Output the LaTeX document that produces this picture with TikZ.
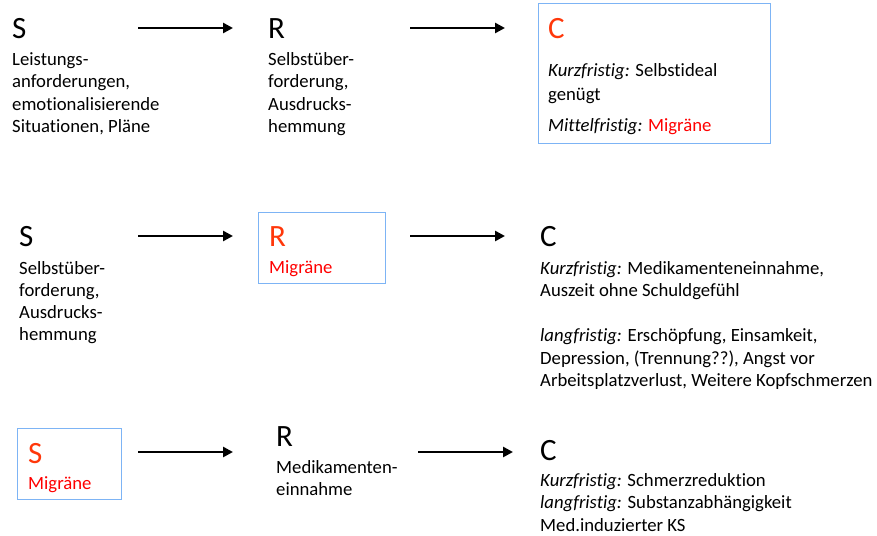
\documentclass[tikz,border=0pt]{standalone}
\usepackage{fontspec}
\setmainfont[Ligatures={NoCommon}]{Carlito}
\usetikzlibrary{arrows.meta}
\definecolor{boxblue}{RGB}{125,180,245}
\definecolor{bigred}{RGB}{255,55,10}
\definecolor{migred}{RGB}{255,0,0}
\tikzset{
  big/.style={anchor=base west,inner sep=0pt,font=\fontsize{31}{31}\selectfont},
  txt/.style={anchor=base west,inner sep=0pt,font=\fontsize{18.7}{22}\selectfont},
  hbox/.style={draw=boxblue,line width=1pt},
  arr/.style={line width=2.7pt,-{Triangle[length=10pt,width=10pt]}}
}
\begin{document}
\begin{tikzpicture}[x=1pt,y=-1pt]
\useasboundingbox (0,0) rectangle (877,535);
% Row 1
\node[big] (s1) at (12,38) {S};
\node[txt] at (12,65) {Leistungs-};
\node[txt] at (12,87) {anforderungen,};
\node[txt] at (12,110) {emotionalisierende};
\node[txt] at (12,132) {Situationen, Pläne};
\node[big] (r1) at (268,38) {R};
\node[txt] at (268,65) {Selbstüber-};
\node[txt] at (268,87) {forderung,};
\node[txt] at (268,110) {Ausdrucks-};
\node[txt] at (268,132) {hemmung};
\draw[hbox] (538,4) rectangle (770,143);
\node[big,text=bigred] (c1) at (548,38) {C};
\node[txt] at (548,76) {\textit{Kurzfristig:} Selbstideal};
\node[txt] at (548,100) {genügt};
\node[txt] at (548,131) {\textit{Mittelfristig:} \textcolor{migred}{Migräne}};
\coordinate (a1s) at (138,28); \coordinate (a1e) at (233,28);
\coordinate (a2s) at (410,28); \coordinate (a2e) at (505,28);
\draw[arr] (a1s) -- (a1e);
\draw[arr] (a2s) -- (a2e);
% Row 2
\node[big] (s2) at (19,246) {S};
\node[txt] at (19,274) {Selbstüber-};
\node[txt] at (19,296) {forderung,};
\node[txt] at (19,318) {Ausdrucks-};
\node[txt] at (19,340) {hemmung};
\draw[hbox] (258,212) rectangle (385,283);
\node[big,text=bigred] (r2) at (269,246) {R};
\node[txt,text=migred] at (269,273) {Migräne};
\node[big] (c2) at (540,246) {C};
\node[txt] at (540,274) {\textit{Kurzfristig:} Medikamenteneinnahme,};
\node[txt] at (540,296) {Auszeit ohne Schuldgefühl};
\node[txt] at (540,341) {\textit{langfristig:} Erschöpfung, Einsamkeit,};
\node[txt] at (540,364) {Depression, (Trennung??), Angst vor};
\node[txt] at (540,386) {Arbeitsplatzverlust, Weitere Kopfschmerzen};
\coordinate (b1s) at (138,236); \coordinate (b1e) at (233,236);
\coordinate (b2s) at (410,236); \coordinate (b2e) at (505,236);
\draw[arr] (b1s) -- (b1e);
\draw[arr] (b2s) -- (b2e);
% Row 3
\draw[hbox] (17,428) rectangle (121,499);
\node[big,text=bigred] (s3) at (28,463) {S};
\node[txt,text=migred] at (28,489) {Migräne};
\node[big] (r3) at (276,446) {R};
\node[txt] at (276,473) {Medikamenten-};
\node[txt] at (276,495) {einnahme};
\node[big] (c3) at (540,460) {C};
\node[txt] at (540,486) {\textit{Kurzfristig:} Schmerzreduktion};
\node[txt] at (540,508) {\textit{langfristig:} Substanzabhängigkeit};
\node[txt] at (540,531) {Med.induzierter KS};
\coordinate (d1s) at (138,452); \coordinate (d1e) at (233,452);
\coordinate (d2s) at (418,452); \coordinate (d2e) at (513,452);
\draw[arr] (d1s) -- (d1e);
\draw[arr] (d2s) -- (d2e);
\end{tikzpicture}
\end{document}
